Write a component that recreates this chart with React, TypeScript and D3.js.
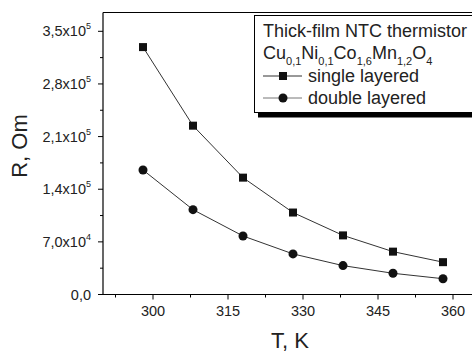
import React from "react";
import * as d3 from "d3";

const temps = [298, 308, 318, 328, 338, 348, 358];
const singleLayered = [329000, 224500, 155400, 109000, 78600, 57000, 43000];
const doubleLayered = [165600, 112800, 77800, 54000, 38400, 28200, 21000];
const xTicks = [300, 315, 330, 345, 360];
const yTicks = [0, 70000, 140000, 210000, 280000, 350000];

const W = 472;
const H = 352;
const FONT = "'Liberation Sans', Arial, sans-serif";

function yLabel(v: number) {
  if (v === 0) return { main: "0,0", sup: "" };
  const e = Math.floor(Math.log10(v));
  const m = (v / Math.pow(10, e)).toFixed(1).replace(".", ",");
  return { main: `${m}x10`, sup: String(e) };
}

export default function App() {
  const x = d3.scaleLinear().domain([290, 365]).range([103, 478]);
  const y = d3.scaleLinear().domain([0, 375000]).range([294.5, 12.5]);
  const line = d3
    .line<[number, number]>()
    .x((d) => x(d[0]))
    .y((d) => y(d[1]));
  const sData = temps.map((t, i) => [t, singleLayered[i]] as [number, number]);
  const dData = temps.map((t, i) => [t, doubleLayered[i]] as [number, number]);

  const xMinor = d3.range(292.5, 366, 15);
  const yMinor = d3.range(35000, 375000, 70000);

  const x0 = x.range()[0];
  const y0 = y.range()[0];
  const yTop = y.range()[1];

  return (
    <svg width={W} height={H} style={{ position: "absolute", left: 0, top: 0, background: "#fff" }} fontFamily={FONT}>
      <rect x={0} y={0} width={W} height={H} fill="#fff" />
      {/* frame */}
      <line x1={x0} y1={yTop} x2={W + 10} y2={yTop} stroke="#000" strokeWidth={1} />
      <line x1={x0} y1={yTop} x2={x0} y2={y0} stroke="#000" strokeWidth={1.2} />
      <line x1={x0} y1={y0} x2={W + 10} y2={y0} stroke="#000" strokeWidth={1.2} />
      {/* y ticks */}
      {yTicks.map((v) => {
        const l = yLabel(v);
        return (
          <g key={v}>
            <line x1={x0 - 5} x2={x0} y1={y(v)} y2={y(v)} stroke="#000" strokeWidth={1} />
            <text x={91} y={y(v) + 5} fontSize={14.5} textAnchor="end" fill="#222">
              {l.main}
              {l.sup && (
                <tspan dy={-7} fontSize={9}>
                  {l.sup}
                </tspan>
              )}
            </text>
          </g>
        );
      })}
      {yMinor.map((v) => (
        <line key={v} x1={x0 - 3} x2={x0} y1={y(v)} y2={y(v)} stroke="#000" strokeWidth={1} />
      ))}
      {/* x ticks */}
      {xTicks.map((v) => (
        <g key={v}>
          <line x1={x(v)} x2={x(v)} y1={y0} y2={y0 + 5} stroke="#000" strokeWidth={1} />
          <text x={x(v)} y={316} fontSize={14.5} textAnchor="middle" fill="#222">
            {v}
          </text>
        </g>
      ))}
      {xMinor.map((v) => (
        <line key={v} x1={x(v)} x2={x(v)} y1={y0} y2={y0 + 3} stroke="#000" strokeWidth={1} />
      ))}
      {/* axis titles */}
      <text x={290} y={348} fontSize={22} textAnchor="middle" fill="#222">
        T, K
      </text>
      <text transform="translate(27,146) rotate(-90)" fontSize={22} textAnchor="middle" fill="#222">
        R, Om
      </text>
      {/* data */}
      <path d={line(sData) || ""} fill="none" stroke="#333" strokeWidth={1} />
      <path d={line(dData) || ""} fill="none" stroke="#333" strokeWidth={1} />
      {sData.map((d, i) => (
        <rect key={i} x={x(d[0]) - 4} y={y(d[1]) - 4} width={8} height={8} fill="#111" />
      ))}
      {dData.map((d, i) => (
        <circle key={i} cx={x(d[0])} cy={y(d[1])} r={4.5} fill="#111" />
      ))}
      {/* legend */}
      <rect x={258} y={112.5} width={230} height={5} fill="#000" />
      <rect x={254.5} y={15.5} width={230} height={97} fill="#fff" stroke="#000" strokeWidth={1} />
      <text x={263} y={37} fontSize={18} fill="#222">
        Thick-film NTC thermistor
      </text>
      <text x={263} y={59} fontSize={18} fill="#222">
        Cu<tspan fontSize={11} dy={6}>0,1</tspan>
        <tspan dy={-6}>Ni</tspan>
        <tspan fontSize={11} dy={6}>0,1</tspan>
        <tspan dy={-6}>Co</tspan>
        <tspan fontSize={11} dy={6}>1,6</tspan>
        <tspan dy={-6}>Mn</tspan>
        <tspan fontSize={11} dy={6}>1,2</tspan>
        <tspan dy={-6}>O</tspan>
        <tspan fontSize={11} dy={6}>4</tspan>
      </text>
      <line x1={263} x2={302} y1={76} y2={76} stroke="#333" strokeWidth={1} />
      <rect x={279} y={72} width={8} height={8} fill="#111" />
      <text x={308} y={82} fontSize={18} fill="#222">
        single layered
      </text>
      <line x1={263} x2={302} y1={98} y2={98} stroke="#777" strokeWidth={1} />
      <circle cx={283} cy={98} r={4.5} fill="#111" />
      <text x={308} y={104} fontSize={18} fill="#222">
        double layered
      </text>
    </svg>
  );
}
